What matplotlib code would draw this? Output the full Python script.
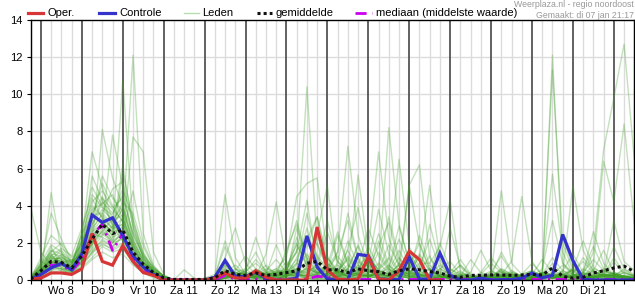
import numpy as np
import matplotlib
matplotlib.use("Agg")
import matplotlib.pyplot as plt
from matplotlib.lines import Line2D

plt.rcParams['font.family'] = ['Liberation Sans', 'DejaVu Sans']

# 6-hourly time axis in hours (0 = Wo 8 00:00)
hours = [-6, 0, 6, 12, 18, 24, 30, 36, 42, 48, 54, 60, 66, 72, 78, 84, 90, 96, 102, 108,
         114, 120, 126, 132, 138, 144, 150, 156, 162, 168, 174, 180, 186, 192, 198, 204,
         210, 216, 222, 228, 234, 240, 246, 252, 258, 264, 270, 276, 282, 288, 294, 300,
         306, 312, 318, 324, 330, 336, 342, 348]

day_labels = ["Wo 8", "Do 9", "Vr 10", "Za 11", "Zo 12", "Ma 13", "Di 14",
              "Wo 15", "Do 16", "Vr 17", "Za 18", "Zo 19", "Ma 20", "Di 21"]

oper = [0.05, 0.1, 0.38, 0.38, 0.3, 0.6, 2.5, 1.0, 0.8, 1.85, 1.0, 0.4, 0.25, 0,
        0, 0, 0, 0, 0.1,
        0.38, 0.12, 0.1, 0.5, 0.15, 0, 0, 0, 0, 2.85,
        0.55, 0.05, 0, 0.05, 1.25, 0.05, 0, 0.5, 1.55, 1.1, 0, 0]

controle = [0.05, 0.3, 0.65, 0.9, 0.55, 1.4, 3.5, 3.1, 3.35, 2.4, 1.3, 0.7, 0.3, 0.03,
            0, 0, 0, 0, 0.15,
            1.05, 0.2, 0.18, 0.43, 0.1, 0, 0, 0.1, 2.37, 0.7,
            0.05, 0, 0.02, 1.38, 1.3, 0.05, 0.03, 0.03, 1.25, 0.05, 0.05, 1.45,
            0.25, 0, 0, 0.1, 0, 0.02, 0.02, 0.1, 0.38, 0.12, 0.25, 2.45, 1.05, 0.03,
            0, 0, 0, 0, 0]

gemiddelde = [0.05, 0.5, 1.0, 0.95, 0.65, 1.3, 2.2, 3.0, 2.5, 2.7, 1.5, 0.85, 0.4, 0.12,
              0.03, 0.03, 0.03, 0.03, 0.12,
              0.5, 0.3, 0.25, 0.38, 0.25, 0.3, 0.4, 0.5, 0.9, 1.0,
              0.55, 0.55, 0.4, 0.6, 0.5, 0.45, 0.3, 0.5, 0.6, 0.55, 0.45,
              0.38, 0.2, 0.15, 0.25, 0.25, 0.27, 0.27, 0.25, 0.27, 0.3, 0.27,
              0.65, 0.2, 0.1, 0.15, 0.38, 0.5, 0.65, 0.75, 0.45]

mediaan = [0, 0.15, 0.8, 0.8, 0.5, 1.1, 2.4, 3.0, 1.6, 2.5, 1.15, 0.6, 0.25, 0.05,
           0, 0, 0, 0, 0.02,
           0.25, 0.05, 0.05, 0.05, 0.05, 0.05, 0.05, 0.05, 0.05, 0.2, 0.15,
           0.03, 0.03, 0.03, 0.03, 0.03, 0.03, 0.03, 0.03, 0.03, 0.03,
           0.03, 0.03, 0.03, 0.03, 0.03, 0.03, 0.03, 0.03, 0.03, 0.03,
           0.03, 0.03, 0.03, 0.03, 0.03, 0.03, 0.03, 0.03, 0.03, 0.03]

leden = [
    [0.0, 0.3, 1.2, 1.0, 0.6, 1.5, 2.8, 3.5, 2.8, 3.0, 1.6, 0.8, 0.3, 0.1,
     0, 0, 0, 0, 0.1, 0.8, 0.3, 0.1, 0.4, 0.2, 0.1, 0.3, 1.2, 2.4, 0.8, 0.2, 0.1, 0.6, 1.8, 0.5,
     0.2, 0.1, 0.4, 1.1, 0.3, 0.1, 0, 0.2, 0.5, 0.1, 0, 0.1, 0.3, 0.2, 0.1, 0, 0.2, 0.9, 0.3, 0.1,
     0, 0.2, 0.6, 0.3, 0.1, 0],
    [0.1, 0.6, 0.9, 1.3, 0.8, 1.0, 2.0, 2.6, 3.3, 2.2, 1.2, 0.5, 0.2, 0.0,
     0, 0, 0, 0.1, 0.3, 4.6, 1.2, 0.3, 0.1, 0, 0, 0.2, 0.5, 0.3, 0.1, 0.4, 1.5, 3.2, 1.1, 0.3,
     2.1, 0.6, 0.2, 0.1, 0.4, 1.3, 0.2, 0, 0, 0.1, 0.2, 0.1, 0, 0, 0.3, 0.5, 0.2, 0.1, 0, 0,
     0, 0.1, 0.4, 1.8, 0.6, 0.2],
    [0.0, 0.4, 1.8, 0.7, 0.4, 1.8, 3.6, 4.5, 3.0, 3.8, 2.0, 1.1, 0.4, 0.1,
     0, 0, 0, 0, 0, 0.3, 0.1, 0, 0.2, 1.4, 4.2, 0.9, 0.3, 0.1, 0, 0, 0.3, 0.8, 0.4, 1.6,
     6.9, 2.3, 0.7, 0.2, 0.1, 0, 0.1, 0.3, 0.8, 0.2, 0.1, 0, 0.2, 0.4, 0.1, 0, 0.3, 1.2, 0.5, 0.2,
     0.1, 0, 0, 0.2, 0.1, 0],
    [0.2, 1.0, 0.7, 0.9, 1.1, 0.8, 1.5, 2.2, 1.8, 2.4, 1.4, 0.9, 0.6, 0.2,
     0, 0.55, 0.1, 0, 0, 0.2, 0.5, 1.3, 0.6, 0.3, 0.2, 0.8, 1.5, 10.4, 1.9, 0.6, 0.2, 0.1, 0.3, 0.2,
     0.5, 1.9, 0.8, 0.3, 0.1, 0, 0.2, 0.1, 0, 0, 0.3, 0.9, 0.4, 0.1, 0, 0.1, 0.2, 0.1, 0.3, 0.5,
     0.2, 0.1, 0, 0.1, 0, 0.1],
    [0.0, 0.2, 4.7, 1.5, 0.5, 1.2, 2.6, 3.0, 2.1, 3.4, 1.8, 0.7, 0.3, 0.0,
     0, 0, 0, 0, 0.2, 2.1, 0.6, 0.2, 0.3, 0.8, 0.3, 0.5, 1.6, 2.2, 3.4, 0.8, 0.4, 1.3, 0.6, 0.2,
     0.1, 0.3, 0.2, 0.6, 1.4, 0.5, 0.2, 0.1, 0.3, 0.2, 0.1, 0.2, 0.6, 0.3, 0.1, 0, 0.1, 0.3, 0.1, 0.2,
     0.4, 0.2, 0.1, 0, 0, 0],
    [0.1, 0.8, 1.4, 0.6, 0.3, 2.2, 6.9, 5.0, 3.2, 4.0, 2.5, 1.2, 0.5, 0.1,
     0, 0, 0, 0, 0, 0.4, 0.2, 0.5, 2.3, 0.7, 0.3, 0.2, 0.4, 1.0, 2.5, 5.1, 0.5, 0.2, 0.4, 1.1,
     0.6, 8.2, 3.0, 0.9, 0.3, 0.1, 0.2, 0.6, 0.3, 0.1, 0, 0.1, 0.2, 0.1, 0.1, 0.2, 0.4, 0.2, 0, 0.3,
     1.2, 0.5, 0.2, 0.1, 0, 0],
    [0.0, 0.1, 0.5, 0.8, 0.5, 0.9, 1.8, 8.1, 5.5, 4.0, 2.0, 0.6, 0.2, 0.0,
     0, 0, 0, 0, 0.1, 1.2, 2.8, 0.9, 0.3, 0.1, 0, 0.3, 0.9, 0.5, 0.2, 0.7, 1.5, 7.2, 2.4, 0.8,
     0.3, 0.2, 0.6, 1.5, 0.5, 0.2, 0.6, 1.0, 0.3, 0.1, 0.4, 1.2, 0.5, 0.2, 0.1, 0, 0.1, 0.3, 0.8, 0.3,
     0.1, 0.2, 0.5, 0.3, 0.1, 0.2],
    [0.0, 0.5, 1.1, 1.2, 0.9, 1.6, 2.4, 2.9, 7.8, 5.0, 2.2, 1.0, 0.4, 0.1,
     0, 0, 0, 0, 0, 0.1, 0.3, 0.2, 0.1, 0.3, 0.6, 1.2, 4.5, 5.2, 5.5, 1.3, 0.2, 0.5, 5.65, 1.5,
     0.4, 0.2, 0.3, 0.1, 0, 0, 0.2, 0.1, 0.4, 0.2, 0.1, 0, 0.2, 0.3, 0.1, 0, 0.5, 5.7, 1.5, 0.3,
     0.1, 0.2, 0.1, 0.3, 0.2, 0.1],
    [3.9, 1.5, 0.8, 0.5, 0.3, 1.0, 2.0, 3.2, 2.5, 10.8, 3.0, 1.4, 0.6, 0.2,
     0, 0, 0, 0, 0, 0.5, 0.2, 0.1, 0.3, 0.2, 0.1, 0.2, 0.3, 0.6, 0.4, 0.3, 0.8, 0.4, 0.2, 0.1,
     0.5, 1.1, 6.5, 1.8, 0.7, 0.3, 0.1, 0.2, 0.1, 0, 0, 0.2, 0.4, 0.2, 0.1, 0.3, 0.1, 12.1, 0.9, 0.4,
     0.2, 0.1, 0.2, 0.4, 0.2, 0.1],
    [0.0, 0.3, 0.9, 1.0, 0.6, 1.3, 2.3, 3.0, 2.4, 2.9, 12.1, 2.5, 0.8, 0.2,
     0, 0, 0, 0, 0.2, 0.9, 0.4, 0.6, 1.5, 0.4, 0.2, 0.5, 2.0, 0.7, 0.3, 0.2, 0.4, 1.2, 0.5, 0.3,
     0.9, 0.4, 0.8, 5.1, 6.2, 1.2, 0.4, 0.2, 0.1, 0, 0.1, 0.3, 0.1, 0, 0.2, 0.1, 0.3, 0.2, 0.1, 0.6,
     0.3, 1.5, 7.0, 9.8, 12.7, 6.5],
    [0.1, 0.6, 1.0, 0.8, 0.7, 1.1, 1.9, 2.7, 2.0, 2.5, 7.7, 6.9, 1.5, 0.3,
     0, 0, 0, 0, 0, 0.3, 0.1, 0.2, 0.5, 0.3, 0.4, 1.4, 3.2, 1.2, 0.4, 0.8, 2.6, 0.9, 0.3, 0.2,
     0.4, 0.8, 0.3, 5.1, 1.9, 0.6, 0.2, 0.1, 0.1, 0, 0.2, 0.5, 0.2, 0.1, 0.1, 0, 0.3, 11.3, 2.0, 0.5,
     0.2, 0.1, 0.3, 0.2, 0.1, 0],
    [0.0, 0.2, 0.6, 0.9, 0.4, 0.7, 1.2, 1.8, 1.5, 1.7, 0.9, 0.5, 0.2, 0.0,
     0, 0, 0, 0, 0, 0.1, 0.2, 0.4, 0.3, 0.1, 0.2, 0.6, 1.5, 4.3, 0.8, 0.3, 0.2, 0.4, 0.7, 2.8,
     1.3, 0.5, 0.2, 0.4, 0.9, 0.9, 1.8, 4.3, 0.4, 0.2, 0, 0.1, 0.2, 0.5, 0.2, 0.1, 0, 0.2, 0.4, 5.1,
     1.6, 0.5, 0.2, 0.1, 0, 0],
    [0.1, 0.9, 1.5, 2.0, 1.2, 1.9, 3.0, 3.8, 3.2, 3.5, 1.9, 1.0, 0.5, 0.1,
     0, 0, 0, 0, 0.1, 0.5, 0.3, 0.2, 0.1, 0.2, 0.3, 0.2, 0.8, 3.6, 1.2, 0.5, 0.3, 0.2, 0.1, 0.4,
     1.5, 0.6, 0.3, 0.2, 0.1, 0.3, 0.5, 0.2, 0.1, 0, 0.1, 0.3, 4.8, 0.9, 0.3, 0.1, 0.2, 0.4, 0.1, 0.2,
     0.1, 0.5, 1.6, 0.4, 0.2, 0.1],
    [0.0, 0.4, 0.8, 0.6, 0.5, 1.4, 2.5, 2.3, 2.0, 2.2, 1.1, 0.6, 0.3, 0.1,
     0, 0, 0, 0, 0, 0.2, 0.1, 0.3, 0.2, 0.1, 0.3, 1.0, 0.5, 0.4, 0.2, 0.1, 0.5, 1.1, 0.4, 0.9,
     3.8, 1.4, 0.5, 0.3, 0.2, 0.6, 0.2, 0.1, 0, 0, 0, 0.1, 0.3, 1.0, 4.5, 1.0, 0.2, 0.1, 0, 0,
     0.2, 0.8, 6.4, 4.2, 8.4, 3.0],
    [0.0, 0.7, 1.3, 1.1, 0.8, 1.7, 2.9, 4.2, 3.6, 4.6, 2.4, 1.3, 0.7, 0.2,
     0, 0, 0, 0, 0, 0.1, 0.4, 0.2, 0.1, 0.3, 1.9, 0.6, 0.3, 0.2, 0.6, 1.2, 0.4, 0.2, 0.5, 1.8,
     0.7, 3.4, 1.2, 0.4, 0.2, 0.1, 0.3, 0.2, 0.1, 0.1, 0.2, 0.1, 0.6, 0.3, 0.1, 0, 0.2, 0.1, 0.3, 0.2,
     0.5, 1.8, 0.6, 0.3, 0.1, 0.2],
    [0.2, 0.5, 0.7, 0.6, 0.3, 0.8, 1.4, 2.0, 1.6, 1.9, 1.0, 0.4, 0.1, 0.0,
     0, 0, 0, 0, 0, 0.2, 0.1, 0.1, 0.3, 0.2, 0.1, 0.3, 0.6, 0.4, 2.4, 0.9, 0.4, 0.2, 0.1, 0.3,
     0.2, 0.5, 1.6, 0.6, 1.2, 5.1, 1.1, 0.3, 0.1, 0.1, 0.1, 0.3, 0.2, 0.1, 0, 0, 0.1, 0.2, 0.5, 0.3,
     0.1, 0.3, 0.2, 0.4, 0.2, 0.1],
    [0.0, 0.3, 1.6, 1.4, 0.9, 2.5, 3.4, 5.2, 4.0, 3.1, 1.7, 0.9, 0.4, 0.1,
     0, 0, 0, 0, 0, 0.3, 0.2, 0.1, 0.2, 0.4, 0.2, 0.1, 0.3, 0.2, 0.1, 0.4, 0.2, 0.3, 0.2, 0.6,
     2.5, 0.8, 0.3, 0.1, 0.2, 0.3, 0.2, 0.1, 0.2, 0.1, 0, 0.2, 0.1, 0.3, 0.1, 0.2, 0.6, 3.2, 0.9, 0.3,
     0.1, 0.2, 0.3, 0.1, 0.2, 0.1],
    [0.0, 0.6, 1.0, 0.7, 0.4, 1.0, 1.7, 2.4, 2.9, 2.1, 1.3, 0.7, 0.3, 0.0,
     0, 0, 0, 0, 0.1, 0.6, 0.3, 0.2, 0.1, 0.1, 0.2, 0.4, 1.1, 0.6, 0.2, 0.3, 0.5, 0.3, 0.8, 0.3,
     0.2, 0.1, 0.2, 0.5, 0.3, 0.1, 0.2, 2.8, 0.7, 0.2, 0.1, 0.2, 0.1, 0.4, 0.2, 0.1, 0.3, 0.2, 0.1, 0.1,
     0.3, 0.5, 0.2, 0.1, 0.2, 0.3],
    [0.1, 1.2, 2.4, 1.9, 0.9, 1.5, 2.2, 3.1, 2.6, 2.8, 1.5, 0.8, 0.4, 0.1,
     0, 0, 0, 0, 0, 0.2, 0.4, 0.3, 0.2, 0.1, 0.1, 0.2, 0.5, 0.3, 0.9, 3.2, 1.0, 0.4, 0.3, 0.2,
     0.4, 0.2, 0.9, 0.5, 0.2, 0.1, 0.1, 0.3, 0.2, 0.4, 1.6, 0.5, 0.2, 0.1, 0.3, 0.5, 0.2, 0.1, 0.2, 0.1,
     0.2, 0.6, 0.4, 0.2, 0.1, 0],
    [0.0, 0.2, 0.5, 0.4, 0.3, 0.6, 1.1, 1.5, 1.2, 1.4, 0.8, 0.4, 0.2, 0.0,
     0, 0, 0, 0, 0, 0.1, 0.2, 0.1, 0, 0.1, 0, 0.1, 0.2, 0.1, 0.1, 0, 0.1, 0.2, 0.1, 0.3,
     0.1, 0.2, 0.4, 0.2, 0.1, 0, 0.1, 0.2, 0.1, 0, 0, 0.1, 0, 0.1, 0.2, 0.1, 0, 0.1, 0.2, 0.1,
     0, 0.1, 0.3, 0.2, 0.1, 0],
    [0.0, 0.5, 1.1, 1.6, 1.0, 2.0, 4.0, 3.4, 2.7, 3.0, 1.6, 0.9, 0.4, 0.1,
     0, 0, 0, 0, 0.2, 1.8, 0.6, 0.4, 1.1, 0.5, 0.3, 0.7, 1.9, 0.8, 0.4, 0.6, 1.3, 0.5, 0.3, 0.2,
     0.3, 0.7, 2.2, 0.8, 0.3, 0.2, 0.4, 0.2, 0.1, 0, 0.1, 0.2, 0.4, 0.3, 0.1, 0.2, 0.4, 0.3, 0.2, 0.1,
     0.4, 2.6, 0.9, 0.3, 0.2, 0.1],
    [0.1, 0.4, 0.9, 0.8, 0.6, 1.2, 2.1, 2.8, 2.2, 5.8, 3.2, 1.5, 0.6, 0.2,
     0, 0, 0, 0, 0, 0.4, 0.2, 0.2, 0.3, 0.6, 0.4, 0.3, 0.6, 1.4, 0.5, 0.2, 0.4, 2.1, 0.8, 0.5,
     0.3, 0.2, 0.4, 0.3, 0.7, 2.2, 0.6, 0.3, 0.1, 0.1, 0.2, 0.4, 1.3, 0.4, 0.2, 0.1, 0.2, 0.1, 0.3, 0.6,
     0.3, 0.1, 0.2, 0.3, 0.2, 0.1],
    [0.0, 0.8, 3.6, 2.2, 1.0, 1.4, 2.6, 3.3, 2.3, 2.6, 1.4, 0.8, 0.3, 0.1,
     0, 0, 0, 0, 0, 0.2, 0.1, 0.6, 0.2, 0.1, 0.1, 0.2, 0.4, 0.2, 0.3, 0.9, 0.4, 0.2, 0.6, 1.4,
     0.5, 0.3, 0.2, 0.1, 0.3, 0.6, 0.2, 0.1, 0, 0, 0, 0.2, 0.5, 0.2, 0.1, 0.3, 1.1, 0.4, 0.2, 0.1,
     0.2, 0.1, 0.3, 1.2, 0.4, 0.2],
    [0.0, 0.3, 0.7, 0.9, 0.7, 1.6, 2.7, 3.6, 3.0, 2.4, 1.2, 0.6, 0.3, 0.0,
     0, 0, 0, 0, 0, 0.3, 0.2, 0.1, 0.2, 0.3, 0.2, 0.5, 0.3, 0.2, 0.4, 0.3, 0.2, 0.1, 0.3, 0.2,
     0.5, 0.3, 0.8, 0.4, 0.2, 0.3, 0.2, 0.1, 0.1, 0.1, 0.2, 0.1, 0.2, 0.1, 0, 0.1, 0.2, 0.1, 0.4, 0.2,
     0.1, 0.3, 0.5, 0.2, 0.6, 0.3],
    [0.1, 0.6, 1.2, 1.0, 0.5, 1.1, 1.6, 2.1, 1.8, 2.3, 1.3, 0.7, 0.3, 0.1,
     0, 0, 0, 0, 0, 0.1, 0, 0.1, 0.2, 0.1, 0, 0.2, 0.3, 0.1, 0, 0.2, 0.1, 0.3, 0.2, 0.1,
     0.2, 0.1, 0.1, 0.3, 0.1, 0, 0, 0.1, 0.2, 0.1, 0, 0.1, 0.1, 0, 0.1, 0.2, 0.1, 0.3, 0.1, 0,
     0.1, 0.2, 0.1, 0.3, 0.2, 0.1],
    [0.0, 0.4, 0.9, 1.1, 0.8, 1.3, 2.2, 2.6, 2.1, 2.5, 4.8, 2.0, 0.7, 0.2,
     0, 0, 0, 0, 0, 0.6, 0.3, 0.2, 0.5, 0.3, 0.2, 0.3, 2.8, 1.0, 0.3, 0.5, 0.3, 0.2, 0.4, 0.2,
     0.6, 1.2, 0.4, 0.2, 0.3, 0.2, 0.1, 0.4, 1.1, 0.3, 0.1, 0.2, 0.3, 0.1, 0.1, 0, 0.1, 0.2, 0.1, 0.2,
     0.3, 0.4, 0.2, 0.1, 0.2, 0.1],
    [0.0, 0.2, 1.0, 0.8, 0.6, 1.5, 5.6, 4.3, 2.9, 3.3, 1.8, 0.9, 0.4, 0.1,
     0, 0, 0, 0, 0.1, 0.3, 0.2, 0.3, 0.1, 0.2, 0.5, 0.4, 0.2, 0.3, 0.2, 0.1, 0.2, 0.6, 0.3, 0.2,
     0.1, 0.2, 0.3, 0.8, 2.0, 0.6, 0.2, 0.1, 0.2, 0.1, 0.3, 0.1, 0.2, 0.2, 0.1, 0.1, 0.4, 0.2, 0.3, 0.1,
     0.2, 0.1, 0.3, 0.2, 0.4, 0.2],
    [0.1, 0.7, 1.4, 1.3, 0.7, 1.2, 1.9, 2.5, 2.0, 2.6, 1.4, 0.8, 0.3, 0.1,
     0, 0, 0, 0, 0, 0.2, 0.1, 0.2, 0.1, 0.1, 0.1, 0.2, 0.4, 0.2, 0.1, 0.3, 0.2, 0.4, 0.3, 0.5,
     0.3, 0.2, 0.1, 0.2, 0.1, 0.1, 0.2, 0.1, 0.1, 0, 0.1, 0.2, 0.1, 0.2, 0.1, 0.2, 0.1, 0.2, 0.1, 0.3,
     0.2, 0.1, 0.1, 0.2, 0.1, 0],
    [0.0, 0.3, 0.6, 0.5, 0.4, 0.9, 1.5, 1.9, 1.7, 2.0, 1.1, 0.5, 0.2, 0.0,
     0, 0, 0, 0, 0, 0.1, 0.1, 0, 0.1, 0.1, 0.1, 0.1, 0.2, 0.1, 0.1, 0.1, 0.2, 0.1, 0.1, 0.2,
     0.1, 0.1, 0.2, 0.1, 0.1, 0, 0.1, 0.1, 0, 0, 0, 0.1, 0.1, 0.1, 0, 0, 0.1, 0.1, 0.1, 0,
     0.1, 0.1, 0.2, 0.1, 0.1, 0],
    [0.0, 0.5, 1.3, 0.9, 0.6, 1.4, 2.4, 3.1, 2.6, 6.2, 2.8, 1.2, 0.5, 0.1,
     0, 0, 0, 0, 0.1, 0.7, 0.4, 0.3, 0.2, 0.3, 0.4, 0.6, 0.3, 0.2, 0.3, 0.2, 0.5, 0.3, 0.2, 1.0,
     0.4, 0.3, 0.2, 0.4, 0.3, 0.2, 0.3, 0.2, 0.1, 0.1, 0.2, 0.3, 0.2, 0.1, 0.1, 0.2, 0.2, 0.3, 0.2, 0.4,
     1.0, 0.4, 0.3, 0.2, 0.1, 0.1],
    [0.0, 0.5, 1.0, 1.2, 0.9, 2.4, 4.2, 4.8, 3.9, 4.4, 2.6, 1.3, 0.5, 0.1,
     0, 0, 0, 0, 0, 0.3, 0.2, 0.5, 0.9, 0.4, 0.3, 1.6, 3.0, 1.1, 0.4, 0.5, 2.4, 0.8, 0.3, 0.6,
     1.8, 3.1, 0.9, 0.4, 0.2, 0.3, 0.8, 0.3, 0.1, 0, 0.1, 0.2, 1.5, 0.5, 0.2, 0.1, 0.3, 0.2, 0.1, 0.2,
     0.4, 1.1, 0.5, 0.3, 0.2, 0.1],
    [0.1, 0.8, 1.6, 1.1, 0.7, 1.9, 3.8, 4.1, 4.6, 3.3, 1.9, 0.9, 0.4, 0.1,
     0, 0, 0, 0, 0.1, 0.4, 0.8, 0.3, 0.2, 0.5, 1.1, 0.4, 0.9, 2.8, 0.9, 0.4, 0.3, 1.7, 3.9, 1.2,
     0.5, 0.3, 0.6, 1.4, 0.5, 0.2, 0.1, 0.3, 0.8, 0.3, 0.1, 0.4, 0.2, 0.1, 0.3, 0.9, 0.3, 0.1, 0.2, 0.6,
     2.1, 0.7, 0.3, 0.2, 0.1, 0],
    [0.0, 0.4, 1.3, 1.7, 1.3, 2.8, 4.6, 3.9, 3.5, 4.9, 3.3, 1.4, 0.6, 0.2,
     0, 0, 0, 0, 0, 0.2, 0.1, 0.2, 0.4, 0.2, 0.3, 0.4, 0.6, 1.8, 3.4, 1.2, 0.5, 0.2, 0.3, 0.9,
     0.4, 0.6, 2.9, 1.0, 0.3, 0.2, 0.1, 0.4, 0.2, 1.1, 0.4, 0.2, 0.1, 0.3, 0.2, 0.1, 0.2, 0.6, 0.2, 0.1,
     0.3, 0.2, 0.4, 3.2, 1.0, 0.5],
    [0.0, 0.6, 1.1, 0.9, 0.8, 2.1, 3.2, 5.6, 4.4, 3.7, 2.1, 1.0, 0.4, 0.1,
     0, 0, 0, 0, 0, 0.5, 0.3, 0.2, 0.6, 0.3, 0.2, 0.3, 0.5, 2.2, 1.3, 0.6, 0.4, 1.6, 0.5, 0.2,
     0.3, 0.4, 0.2, 0.5, 2.4, 0.8, 0.3, 0.2, 0.1, 0.1, 0.3, 0.2, 0.1, 0, 0.1, 0.2, 0.4, 0.2, 0.1, 0.3,
     0.2, 0.1, 0.2, 0.3, 0.1, 0],
    [0.1, 0.3, 0.8, 1.0, 0.7, 2.6, 5.0, 4.0, 3.1, 4.2, 3.6, 1.8, 0.7, 0.2,
     0, 0, 0, 0, 0.1, 0.8, 0.4, 0.3, 0.2, 0.4, 0.6, 0.3, 0.2, 0.5, 0.7, 2.6, 1.0, 0.4, 0.3, 0.2,
     0.3, 0.2, 0.6, 0.3, 1.3, 0.5, 0.2, 0.1, 0.3, 0.2, 0.1, 0.2, 0.5, 0.2, 0.1, 0.3, 0.2, 0.1, 0.5, 1.4,
     0.4, 0.2, 0.3, 0.2, 0.1, 0.1],
    [0.0, 0.4, 0.9, 1.4, 1.0, 1.8, 3.5, 3.6, 4.9, 5.3, 2.9, 1.2, 0.5, 0.1,
     0, 0, 0, 0, 0, 0.3, 0.6, 0.2, 0.1, 0.2, 0.4, 0.5, 2.3, 0.8, 0.3, 0.7, 0.4, 0.2, 1.0, 0.5,
     0.2, 0.4, 1.2, 0.5, 0.3, 3.0, 0.9, 0.2, 0.1, 0.1, 0.2, 0.1, 0.3, 0.2, 0.1, 0, 0.2, 0.4, 2.3, 0.7,
     0.3, 0.2, 0.1, 0.3, 0.5, 0.2],
    [0.1, 0.9, 1.9, 1.5, 0.9, 2.2, 4.4, 3.3, 2.8, 3.9, 2.2, 1.1, 0.5, 0.1,
     0, 0, 0, 0, 0, 0.2, 0.3, 0.4, 0.3, 0.2, 0.5, 0.3, 0.4, 0.6, 0.4, 0.3, 0.9, 3.6, 1.2, 0.4,
     0.3, 0.2, 0.4, 0.2, 0.6, 0.3, 2.0, 0.6, 0.2, 0.1, 0.1, 0.3, 0.2, 0.1, 0.2, 0.5, 0.2, 0.1, 0.3, 0.2,
     0.6, 0.3, 0.2, 1.0, 0.3, 0.1],
    [0.0, 0.2, 0.7, 0.6, 0.5, 1.7, 3.0, 4.4, 3.8, 3.2, 1.7, 0.8, 0.3, 0.0,
     0, 0, 0, 0, 0, 0.1, 0.2, 0.3, 0.2, 0.1, 0.2, 0.3, 0.2, 0.7, 2.0, 0.7, 0.3, 0.6, 1.9, 0.6,
     0.3, 0.2, 0.3, 0.2, 0.4, 0.2, 0.6, 0.3, 0.1, 0, 0.1, 0.1, 0.2, 0.3, 0.1, 0.2, 0.1, 0.3, 0.2, 0.1,
     0.1, 0.2, 0.3, 0.2, 0.4, 0.2],
]

W, H = 635, 300
fig = plt.figure(figsize=(W / 100, H / 100), dpi=100)
ax = fig.add_axes([30.7 / W, 20 / H, (634.3 - 30.7) / W, 260 / H])

x = np.array(hours, dtype=float)

# grid
for h in np.arange(-6, 349, 6):
    if h % 24 == 0:
        ax.axvline(h, color='#555555', lw=1.3, zorder=0.5)
    else:
        ax.axvline(h, color='#dcdcdc', lw=1.0, zorder=0.4)
for v in range(2, 14, 2):
    ax.axhline(v, color='#dcdcdc', lw=1.0, zorder=0.4)

for m in leden:
    ax.plot(x, m, color='#3a9c22', alpha=0.3, lw=1.0, zorder=1)

ax.plot(x, mediaan, color='#cc00ee', lw=2.0, dashes=(4, 2, 0.8, 2), zorder=2)
ax.plot(x, controle, color='#3434cc', lw=2.3, zorder=3, solid_joinstyle='miter')
ax.plot(x[:len(oper)], oper, color='#d83636', lw=2.3, zorder=4, solid_joinstyle='miter')
ax.plot(x, gemiddelde, color='#111111', lw=2.2, dashes=(1, 1), zorder=5)

ax.set_xlim(-6, 348)
ax.set_ylim(0, 14)
ax.set_yticks(range(0, 15, 2))
ax.set_xticks([12 + 24 * k for k in range(len(day_labels))])
ax.set_xticklabels(day_labels)
ax.set_xticks([h for h in np.arange(-6, 349, 6) if (h - 12) % 24 != 0], minor=True)
ax.tick_params(axis='both', which='both', direction='out', length=3, width=0.8,
               labelsize=8, colors='black')
ax.tick_params(axis='x', which='both', pad=1.5)
ax.tick_params(axis='y', pad=3)
for s in ax.spines.values():
    s.set_color('black')
    s.set_linewidth(1.0)
    s.set_zorder(6)

# legend (figure pixel coordinates)
def fx(px):
    return px / W

def fy(py):
    return 1 - py / H

ly = 13
items = [
    (28, 43, 48, dict(color='#d83636', lw=2.3), 'Oper.'),
    (99, 115, 119, dict(color='#3434cc', lw=2.3), 'Controle'),
    (184, 199, 202, dict(color='#3a9c22', lw=1.0, alpha=0.35), 'Leden'),
    (257, 272, 276, dict(color='#111111', lw=2.2, dashes=(1, 1)), 'gemiddelde'),
    (355, 372, 376, dict(color='#cc00ee', lw=2.0, dashes=(4, 2, 0.8, 2)), 'mediaan (middelste waarde)'),
]
for x0, x1, tx, style, label in items:
    fig.add_artist(Line2D([fx(x0), fx(x1)], [fy(ly), fy(ly)], transform=fig.transFigure, **style))
    fig.text(fx(tx), fy(ly), label, fontsize=8, va='center', ha='left', color='black')

fig.text(fx(634), fy(4.5), 'Weerplaza.nl - regio noordoost', fontsize=6.3,
         color='#999999', ha='right', va='center')
fig.text(fx(634), fy(15), 'Gemaakt: di 07 jan 21:17', fontsize=6.3,
         color='#999999', ha='right', va='center')

fig.savefig('out.png', dpi=100)
